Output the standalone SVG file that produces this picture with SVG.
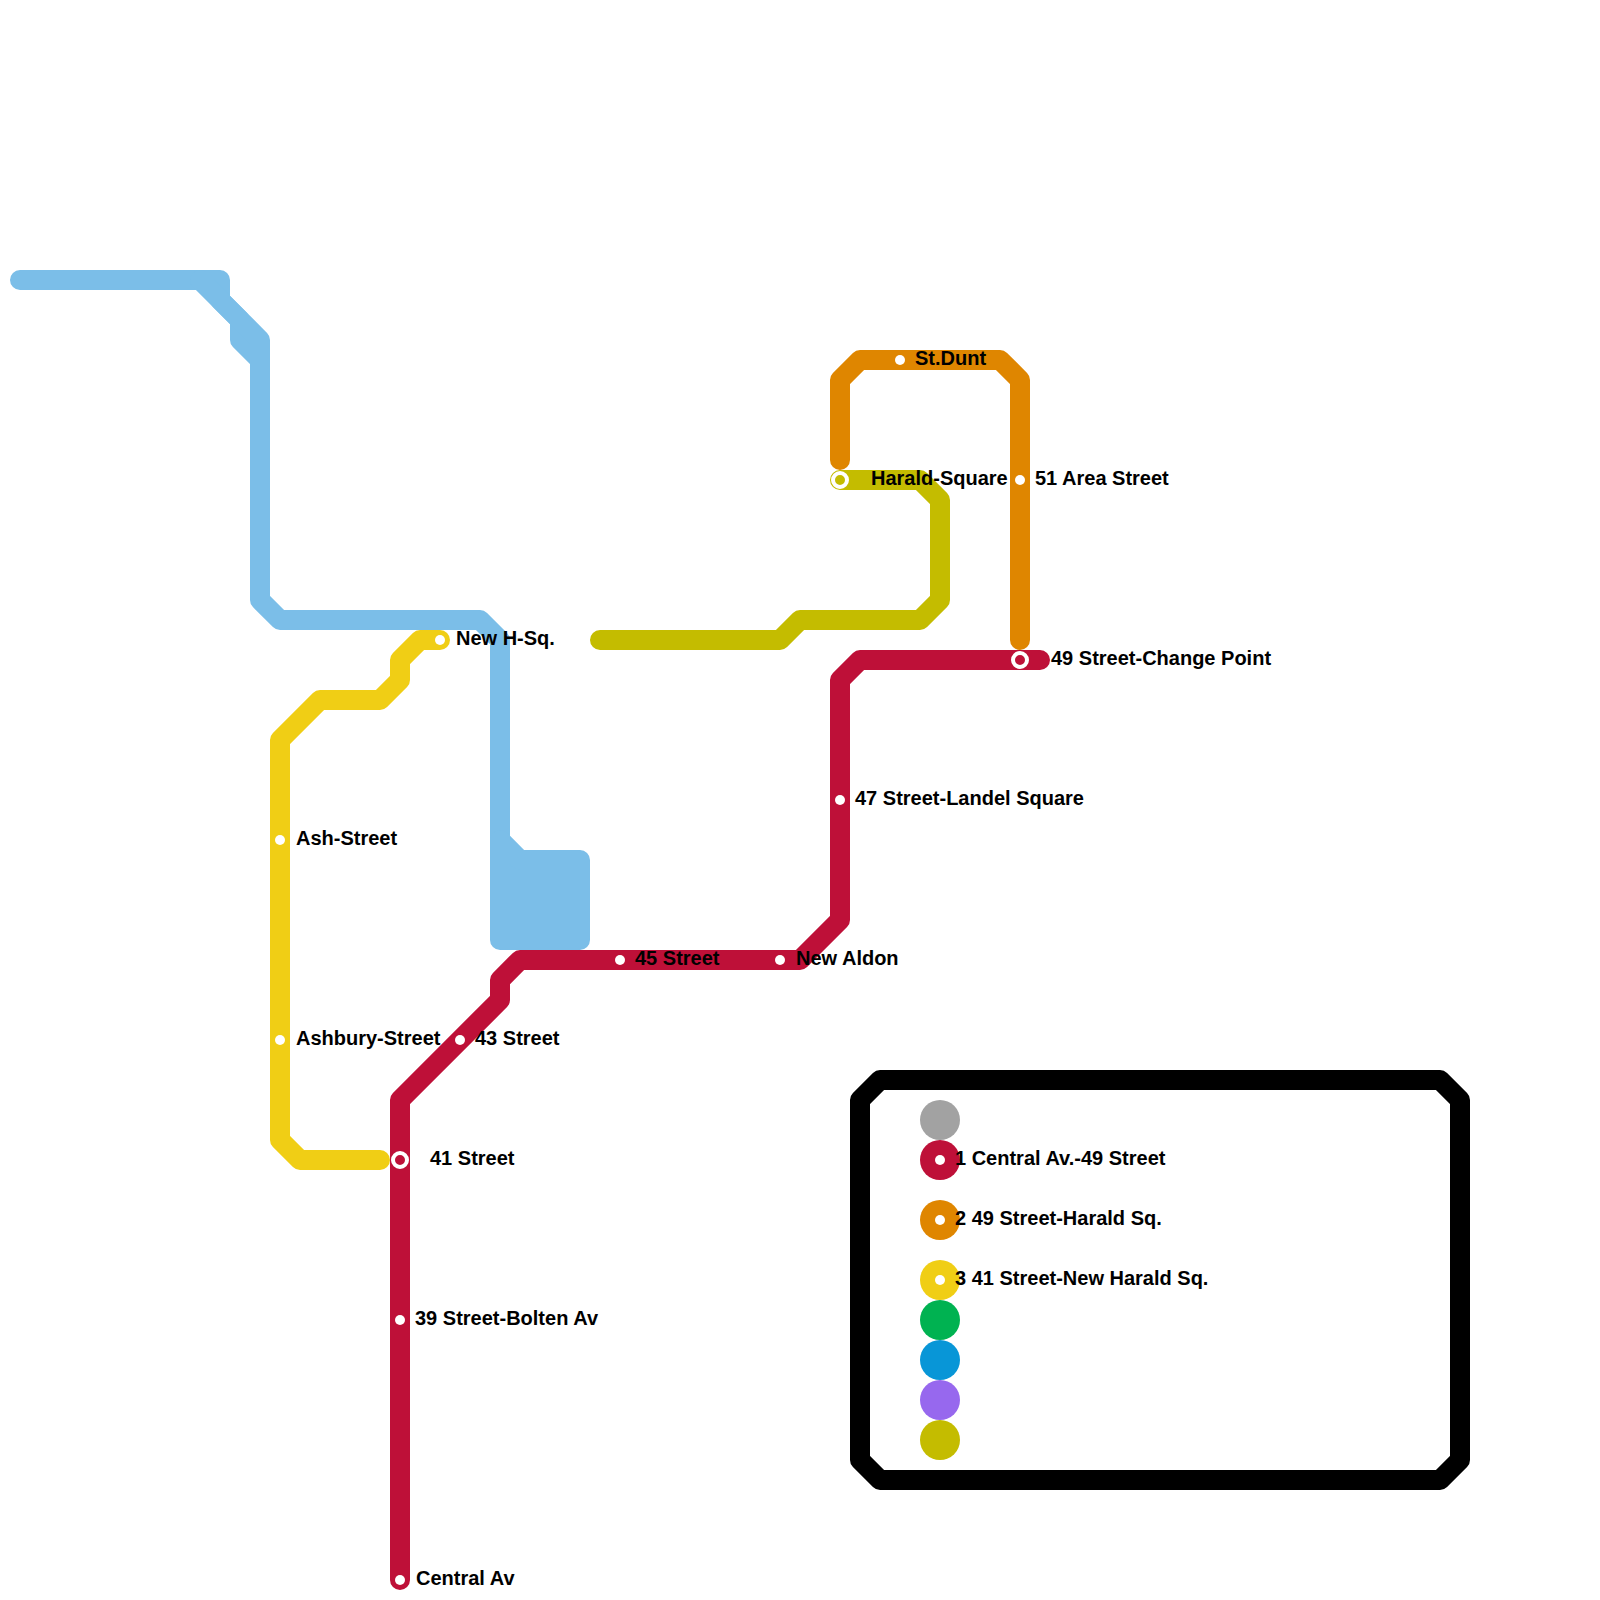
<svg xmlns="http://www.w3.org/2000/svg" width="1600" height="1600" viewBox="0 0 1600 1600">
<style>
.ln{fill:none;stroke-width:20;stroke-linecap:round;stroke-linejoin:round}
.blue{stroke:#7BBEE8}
.yellow{stroke:#F0CE15}
.olive{stroke:#C4BC00}
.orange{stroke:#DF8600}
.red{stroke:#BE1038}
.st{fill:#fff}
.ring{stroke:#fff;stroke-width:4}
.lbl{font-family:"Liberation Sans",Arial,sans-serif;font-weight:bold;font-size:20px;fill:#000}
</style>
<rect width="1600" height="1600" fill="#fff"/>
<g id="connectors">
<path class="ln blue" d="M20,280 H220 V300 L240,320 V340 L260,360"/>
<path class="ln blue" d="M200,280 L260,340 V600 L280,620 H480 L500,640 V840"/>
<path class="ln blue" style="fill:#7BBEE8" d="M500,840 L520,860 H580 V940 H500 Z"/>
<path class="ln yellow" d="M440,640 H420 L400,660 V680 L380,700 H320 L280,740 V1140 L300,1160 H380"/>
<path class="ln olive" d="M840,480 H920 L940,500 V600 L920,620 H800 L780,640 H600"/>
<path class="ln orange" d="M840,460 V380 L860,360 H1000 L1020,380 V640"/>
<path class="ln red" d="M400,1580 V1100 L500,1000 V980 L520,960 H800 L840,920 V680 L860,660 H1040"/>
</g>
<g id="station-new-h-sq"><circle class="st" cx="440" cy="640" r="5"/><text class="lbl" x="456" y="645">New H-Sq.</text></g>
<g id="station-ash-street"><circle class="st" cx="280" cy="840" r="5"/><text class="lbl" x="296" y="845">Ash-Street</text></g>
<g id="station-ashbury-street"><circle class="st" cx="280" cy="1040" r="5"/><text class="lbl" x="296" y="1045">Ashbury-Street</text></g>
<g id="station-43-street"><circle class="st" cx="460" cy="1040" r="5"/><text class="lbl" x="475" y="1045">43 Street</text></g>
<g id="station-41-street"><circle class="ring" cx="400" cy="1160" r="7" fill="#BE1038"/><text class="lbl" x="430" y="1165">41 Street</text></g>
<g id="station-39-street"><circle class="st" cx="400" cy="1320" r="5"/><text class="lbl" x="415" y="1325">39 Street-Bolten Av</text></g>
<g id="station-central-av"><circle class="st" cx="400" cy="1580" r="5"/><text class="lbl" x="416" y="1585">Central Av</text></g>
<g id="station-45-street"><circle class="st" cx="620" cy="960" r="5"/><text class="lbl" x="635" y="965">45 Street</text></g>
<g id="station-new-aldon"><circle class="st" cx="780" cy="960" r="5"/><text class="lbl" x="796" y="965">New Aldon</text></g>
<g id="station-47-street"><circle class="st" cx="840" cy="800" r="5"/><text class="lbl" x="855" y="805">47 Street-Landel Square</text></g>
<g id="station-49-street"><circle class="ring" cx="1020" cy="660" r="7" fill="#BE1038"/><text class="lbl" x="1051" y="665">49 Street-Change Point</text></g>
<g id="station-harald-square"><circle class="ring" cx="840" cy="480" r="7" fill="#C4BC00"/><text class="lbl" x="871" y="485">Harald-Square</text></g>
<g id="station-st-dunt"><circle class="st" cx="900" cy="360" r="5"/><text class="lbl" x="915" y="365">St.Dunt</text></g>
<g id="station-51-area-street"><circle class="st" cx="1020" cy="480" r="5"/><text class="lbl" x="1035" y="485">51 Area Street</text></g>
<g id="legend">
<path d="M880,1080 H1440 L1460,1100 V1460 L1440,1480 H880 L860,1460 V1100 Z" fill="none" stroke="#000" stroke-width="20" stroke-linejoin="round"/>
<circle cx="940" cy="1120" r="20" fill="#A2A2A2"/>
<circle cx="940" cy="1160" r="20" fill="#BE1038"/><circle class="st" cx="940" cy="1160" r="5"/>
<circle cx="940" cy="1220" r="20" fill="#DF8600"/><circle class="st" cx="940" cy="1220" r="5"/>
<circle cx="940" cy="1280" r="20" fill="#F0CE15"/><circle class="st" cx="940" cy="1280" r="5"/>
<circle cx="940" cy="1320" r="20" fill="#00B251"/>
<circle cx="940" cy="1360" r="20" fill="#0896D7"/>
<circle cx="940" cy="1400" r="20" fill="#9768EE"/>
<circle cx="940" cy="1440" r="20" fill="#C4BC00"/>
<text class="lbl" x="955" y="1165">1 Central Av.-49 Street</text>
<text class="lbl" x="955" y="1225">2 49 Street-Harald Sq.</text>
<text class="lbl" x="955" y="1285">3 41 Street-New Harald Sq.</text>
</g>
</svg>
